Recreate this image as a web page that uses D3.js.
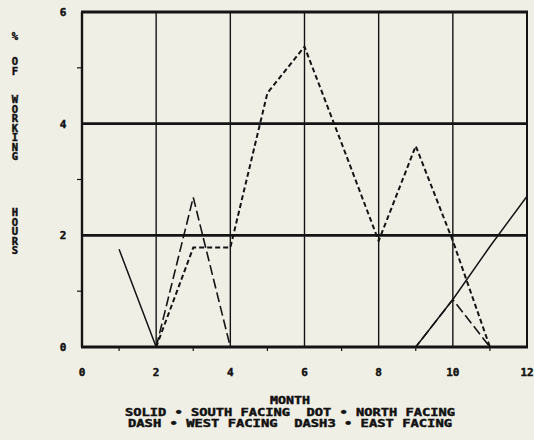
<!DOCTYPE html>
<html>
<head>
<meta charset="utf-8">
<script src="https://cdn.jsdelivr.net/npm/d3@7"></script>
<style>
  body { margin: 0; background: #f0efe6; }
  svg { display: block; }
  text { font-family: "DejaVu Sans Mono", monospace; font-weight: bold; fill: #111; stroke: #111; stroke-width: 0.45; }
  .vert { writing-mode: vertical-rl; text-orientation: upright; }
</style>
</head>
<body>
<svg id="chart" width="534" height="440"></svg>
<script>
let months = [1, 2, 3, 4, 5, 6, 7, 8, 9, 10, 11, 12];
let south = [1.75, 0, 0, 0, 0, 0, 0, 0, 0, 0.85, 1.8, 2.7];
let west = [null, 0, 2.68, 0, 0, 0, 0, 0, 0, 0.85, 0, 0];
let north = [null, 0, 1.78, 1.78, 4.55, 5.38, 3.65, 1.9, 3.6, 1.9, 0, 0];
let east = [null, 0, 0, 0, 0, 0, 0, 0, 0, 0, 0, 0];
let x_ticks = [0, 2, 4, 6, 8, 10, 12];
let y_ticks = [0, 2, 4, 6];
let y_label = ["%", "OF", "WORKING", "HOURS"];
let legend_lines = [
  "MONTH",
  "SOLID \u2022 SOUTH FACING  DOT \u2022 NORTH FACING",
  "DASH \u2022 WEST FACING  DASH3 \u2022 EAST FACING"
];

let svg = d3.select("#chart");

let padding = { left: 82, right: 7, top: 12, bottom: 93 };
let svg_size = { width: 534, height: 440 };

let scale_x = d3.scaleLinear()
  .domain([0, 12])
  .range([padding.left, svg_size.width - padding.right]);
let scale_y = d3.scaleLinear()
  .domain([0, 6])
  .range([svg_size.height - padding.bottom, padding.top]);

let ink = "#141414";

// grid
svg.append("g")
  .selectAll("line")
  .data([2, 4, 6, 8, 10])
  .join("line")
  .attr("x1", d => scale_x(d)).attr("x2", d => scale_x(d))
  .attr("y1", scale_y(0)).attr("y2", scale_y(6))
  .attr("stroke", ink).attr("stroke-width", 1.4);

svg.append("g")
  .selectAll("line")
  .data([2, 4])
  .join("line")
  .attr("x1", scale_x(0)).attr("x2", scale_x(12))
  .attr("y1", d => scale_y(d)).attr("y2", d => scale_y(d))
  .attr("stroke", ink).attr("stroke-width", 2.6);

// minor ticks
svg.append("g")
  .selectAll("line")
  .data([1, 3, 5])
  .join("line")
  .attr("x1", scale_x(0) - 5).attr("x2", scale_x(0))
  .attr("y1", d => scale_y(d)).attr("y2", d => scale_y(d))
  .attr("stroke", ink).attr("stroke-width", 1.2);

svg.append("g")
  .selectAll("line")
  .data([1, 3, 5, 7, 9, 11])
  .join("line")
  .attr("x1", d => scale_x(d)).attr("x2", d => scale_x(d))
  .attr("y1", scale_y(0)).attr("y2", scale_y(0) + 4)
  .attr("stroke", ink).attr("stroke-width", 1.2);

// series
let series = [
  { values: south, dash: null, width: 1.5 },
  { values: west, dash: "10,4", width: 1.6 },
  { values: north, dash: "5,3", width: 2 },
  { values: east, dash: "12,3,3,3", width: 1.5 }
];

let line = d3.line()
  .defined(d => d.v !== null)
  .x(d => scale_x(d.m))
  .y(d => scale_y(d.v));

svg.append("g")
  .selectAll("path")
  .data(series)
  .join("path")
  .attr("d", s => line(months.map((m, i) => ({ m: m, v: s.values[i] }))))
  .attr("fill", "none")
  .attr("stroke", ink)
  .attr("stroke-width", s => s.width)
  .attr("stroke-dasharray", s => s.dash);

// frame
let x0 = scale_x(0), x1 = scale_x(12), yb = scale_y(0), yt = scale_y(6);
svg.append("line").attr("x1", x0 - 1).attr("x2", x1 + 1).attr("y1", yt).attr("y2", yt)
  .attr("stroke", ink).attr("stroke-width", 3);
svg.append("line").attr("x1", x0 - 1).attr("x2", x1 + 1).attr("y1", yb).attr("y2", yb)
  .attr("stroke", ink).attr("stroke-width", 3);
svg.append("line").attr("x1", x0).attr("x2", x0).attr("y1", yt).attr("y2", yb)
  .attr("stroke", ink).attr("stroke-width", 2.4);
svg.append("line").attr("x1", x1).attr("x2", x1).attr("y1", yt).attr("y2", yb)
  .attr("stroke", ink).attr("stroke-width", 2);

// tick labels
svg.append("g")
  .selectAll("text")
  .data(y_ticks)
  .join("text")
  .attr("x", 63)
  .attr("y", d => scale_y(d) + 4)
  .attr("text-anchor", "middle")
  .attr("font-size", 11)
  .text(d => d);

svg.append("g")
  .selectAll("text")
  .data(x_ticks)
  .join("text")
  .attr("x", d => scale_x(d))
  .attr("y", 376)
  .attr("text-anchor", "middle")
  .attr("font-size", 11)
  .text(d => d);

// y label: each word written top to bottom, letters upright
let word_starts = [30, 55, 93, 206];
svg.append("g")
  .selectAll("text")
  .data(y_label)
  .join("text")
  .classed("vert", true)
  .attr("x", 15)
  .attr("y", (d, i) => word_starts[i])
  .attr("font-size", 10.5)
  .attr("letter-spacing", -2.5)
  .text(d => d);

// legend / x title
let legend_y = [404, 416, 427];
let legend_w = [40, 330, 324];
svg.append("g")
  .selectAll("text")
  .data(legend_lines)
  .join("text")
  .attr("x", 290)
  .attr("y", (d, i) => legend_y[i])
  .attr("text-anchor", "middle")
  .attr("font-size", 10.5)
  .attr("textLength", (d, i) => legend_w[i])
  .attr("lengthAdjust", "spacingAndGlyphs")
  .style("white-space", "pre")
  .text(d => d);
</script>
</body>
</html>
